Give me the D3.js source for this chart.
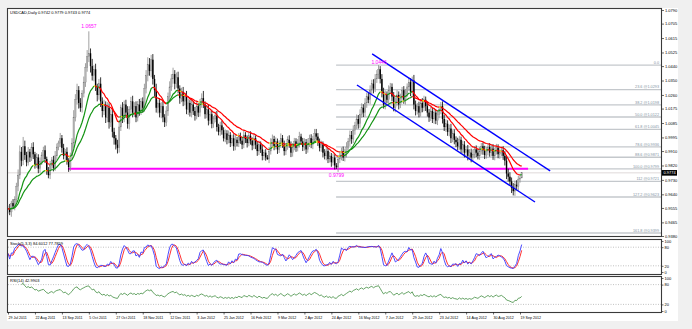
<!DOCTYPE html>
<html><head><meta charset="utf-8">
<script src="https://cdnjs.cloudflare.com/ajax/libs/d3/7.8.5/d3.min.js"></script>
<style>body{margin:0;background:#f0f0f0;}svg{display:block;font-family:"Liberation Sans",Arial,sans-serif;}</style>
</head><body><svg id="c" width="692" height="329"></svg>
<script>
// ---- DATA (prices in pips, 1/10000) ----
const firstOpen = 9545;
const closes = [
9550,9530,9585,9565,9610,9690,9760,9905,9850,9940,
9885,9840,9905,9870,9935,9890,9825,9870,9800,9845,
9885,9915,9860,9790,9760,9820,9855,9805,9880,9935,
9960,9990,9930,9880,9905,9850,9810,9880,9960,10120,
10230,10290,10210,10180,10270,10340,10430,10500,10520,10440,
10380,10420,10310,10260,10330,10220,10160,10200,10120,10180,
10090,10140,10030,9990,9950,9930,10060,10180,10120,10200,
10150,10080,10170,10220,10150,10190,10120,10200,10160,10220,
10180,10300,10380,10450,10410,10480,10360,10290,10180,10210,
10150,10190,10120,10090,10160,10250,10310,10360,10390,10330,
10370,10300,10240,10280,10220,10250,10170,10210,10150,10200,
10160,10130,10190,10150,10210,10240,10200,10140,10170,10100,
10140,10080,10110,10130,10060,10030,10070,10040,9990,10020,
9980,10010,9960,9990,9940,9980,9960,10000,9975,9950,
10010,9985,9960,10005,9975,9945,9990,9950,9910,9950,
9920,9880,9900,9870,9860,9910,9960,9985,9940,9970,
9920,9955,9990,9950,9910,9940,9980,9950,9900,9935,
9970,9930,9960,10000,9970,9935,9965,9920,9960,9990,
9950,9985,10020,10000,9970,9930,9950,9900,9880,9910,
9860,9880,9840,9870,9820,9810,9860,9880,9910,9870,
9900,9935,9970,10010,9985,10040,10070,10110,10080,10140,
10180,10150,10210,10250,10230,10290,10330,10300,10360,10390,
10420,10360,10280,10200,10260,10230,10290,10310,10250,10180,
10220,10260,10200,10240,10290,10230,10270,10310,10340,10280,
10350,10200,10160,10190,10150,10210,10180,10230,10190,10150,
10120,10160,10110,10150,10100,10140,10170,10190,10110,10060,
10080,10030,10050,9990,10020,9980,9965,9940,9980,9920,
9950,9900,9920,9880,9900,9870,9890,9920,9900,9880,
9910,9940,9915,9885,9910,9935,9900,9925,9880,9910,
9930,9890,9900,9915,9880,9850,9770,9750,9720,9680,
9660,9700,9690,9735,9742,9774];
const upWick = [
20,30,15,25,18,22,35,40,30,58, 35,20,30,18,25,30,15,28,20,25,
18,22,30,15,20,28,18,25,30,22, 15,33,20,25,18,28,15,20,30,45,
35,40,25,30,20,35,28,40,137,30, 45,25,35,20,30,40,25,30,20,35,
28,30,40,25,20,30,45,20,35,25, 30,40,20,28,35,25,30,22,35,20,
25,30,35,45,40,30,35,25,40,20, 30,25,35,20,30,25,35,30,40,25,
30,35,20,25,30,20,35,25,18,30, 22,25,30,18,25,30,45,20,25,30,
20,28,18,25,30,20,22,30,18,25, 20,28,18,22,25,30,18,22,25,20,
30,18,22,25,28,20,30,18,22,25, 20,28,18,22,15,25,30,28,20,25,
18,22,30,20,25,18,22,28,20,25, 22,20,25,30,18,22,25,20,28,22,
25,20,28,28,22,18,25,20,22,25, 20,25,18,22,20,15,25,30,22,28,
25,30,22,28,25,30,22,28,25,30, 28,22,30,25,28,30,25,28,30,25,
26,20,30,25,28,22,30,25,22,28, 25,30,22,28,20,25,28,22,30,25,
25,35,25,20,28,22,30,25,20,28, 22,25,20,28,22,25,20,26,30,25,
28,22,25,30,20,25,22,28,25,20, 25,22,20,28,22,25,30,20,25,22,
25,20,22,28,25,20,25,22,28,20, 25,22,28,20,25,30,35,30,28,25,
30,25,28,22,20,5];
const dnWick = [
25,20,30,18,25,20,30,25,35,28, 30,25,20,28,22,30,25,20,28,25,
22,30,25,28,20,25,30,22,18,25, 20,25,30,22,28,25,30,25,20,30,
25,30,35,25,30,25,30,25,35,40, 30,35,25,40,30,35,40,25,35,30,
40,30,35,40,30,35,30,25,35,30, 25,30,35,25,30,28,30,25,30,25,
30,25,30,35,30,40,35,40,30,35, 30,35,30,30,25,30,35,25,30,35,
25,30,35,25,30,25,30,35,25,30, 25,30,22,28,25,30,22,28,25,30,
22,28,25,20,28,22,25,28,20,25, 28,22,25,20,28,25,22,25,20,28,
22,25,28,20,25,30,22,28,30,25, 22,28,25,20,5,25,22,28,25,20,
28,22,25,20,28,25,22,20,28,25, 20,25,22,28,20,25,22,28,20,25,
22,28,20,25,28,22,25,30,22,28, 25,22,28,20,25,11,30,25,28,22,
25,30,22,28,30,25,28,22,30,25, 22,28,25,30,22,28,25,30,22,25,
30,28,35,25,30,22,28,25,30,22, 28,25,30,22,28,25,30,22,25,28,
25,30,28,22,30,25,28,22,30,25, 28,22,25,30,22,28,25,30,28,25,
30,25,28,30,25,28,30,25,22,28, 25,30,22,28,25,30,22,25,28,22,
25,22,28,25,22,28,25,22,25,28, 22,25,28,22,25,30,35,30,28,32,
27,30,25,28,22,1];
const priceTicks = [1.0790,1.0705,1.0615,1.0525,1.0440,1.0350,1.0260,1.0175,1.0085,0.9995,0.9910,0.9820,0.9730,0.9640,0.9555,0.9465,0.9380];
const dateLabels = ["29 Jul 2011","22 Aug 2011","13 Sep 2011","5 Oct 2011","27 Oct 2011","18 Nov 2011","12 Dec 2011","3 Jan 2012","25 Jan 2012","16 Feb 2012","9 Mar 2012","2 Apr 2012","24 Apr 2012","16 May 2012","7 Jun 2012","29 Jun 2012","23 Jul 2012","14 Aug 2012","30 Aug 2012","19 Sep 2012"];
const fibNames = ["0.0","23.6","38.2","50.0","61.8","78.6","88.6","100.0","112","127.2","161.8"];
const fibPrices = [1.0446,1.0293,1.0198,1.0122,1.0045,0.9936,0.9871,0.9799,0.9721,0.9623,0.9399];
const fibStartBar = 194.8;
const channelUpper = [[216.2,1.0516],[321.9,0.9786]];
const channelLower = [[207.2,1.0322],[312.9,0.9592]];
const supportLine = [[35.6,0.9799],[308.8,0.9799]];
const marks = [{bar:48.1,price:1.0657,text:"1.0657",dy:-3},{bar:220.3,price:1.0446,text:"1.0446",dy:-1},{bar:195,price:0.9799,text:"0.9799",dy:8}];
const lastPrice = 0.9774;
const header = "USDCAD,Daily  0.9742 0.9779 0.9743 0.9774";
const stochTitle = "Stoch(5,3,3) 84.6012 77.7859";
const rsiTitle = "RSI(14) 42.9903";
const oscTicks = [0,20,80,100];

// ---- derived ----
const N = closes.length;
const P = v => v/10000;
const opens = closes.map((c,i)=> i===0 ? firstOpen : closes[i-1]);
const highs = closes.map((c,i)=> Math.max(opens[i],c)+upWick[i]);
const lows = closes.map((c,i)=> Math.min(opens[i],c)-dnWick[i]);

const x = d3.scaleLinear().domain([0,304]).range([8,520]);
const y = d3.scaleLinear().domain([0.9380,1.0790]).range([236,10]);
const yS = d3.scaleLinear().domain([0,100]).range([272,241]);
const yR = d3.scaleLinear().domain([0,100]).range([311,278]);

const svg = d3.select("#c");
svg.append("rect").attr("x",7).attr("y",8).attr("width",671).attr("height",313).attr("fill","#fff");
const defs = svg.append("defs");
defs.append("clipPath").attr("id","mc").append("rect").attr("x",8).attr("y",9).attr("width",653).attr("height",227);
defs.append("clipPath").attr("id","sc").append("rect").attr("x",8).attr("y",240).attr("width",653).attr("height",34);
defs.append("clipPath").attr("id","rc").append("rect").attr("x",8).attr("y",277).attr("width",653).attr("height",35);

const main = svg.append("g").attr("clip-path","url(#mc)");
const line = d3.line().x(d=>x(d[0])).y(d=>y(d[1]));

// fib levels
fibPrices.forEach((p,i)=>{
  main.append("line").attr("x1",x(fibStartBar)).attr("x2",661).attr("y1",y(p)).attr("y2",y(p))
    .attr("stroke","#c4c8cc").attr("stroke-width",1.4);
  main.append("text").attr("x",659).attr("y",y(p)-1.2).attr("text-anchor","end")
    .attr("font-size",3.8).attr("fill","#8593a3")
    .text(i===0 ? fibNames[i] : fibNames[i]+" @"+p.toFixed(4));
});
// current price line
main.append("line").attr("x1",8).attr("x2",661).attr("y1",y(lastPrice)).attr("y2",y(lastPrice))
  .attr("stroke","#d8d0d0").attr("stroke-width",0.8);
// support
main.append("path").attr("d",line(supportLine)).attr("stroke","#ff00ff").attr("stroke-width",2).attr("fill","none");

// candles
const cg = main.append("g");
closes.forEach((c,i)=>{
  const bull = c>=opens[i];
  const col = bull ? "#8a8a8a" : "#000";
  cg.append("line").attr("x1",x(i)).attr("x2",x(i)).attr("y1",y(P(highs[i]))).attr("y2",y(P(lows[i])))
    .attr("stroke",col).attr("stroke-width",0.8);
  const top = y(P(Math.max(opens[i],c))), bot = y(P(Math.min(opens[i],c)));
  cg.append("rect").attr("x",x(i)-0.7).attr("width",1.4).attr("y",top).attr("height",Math.max(0.6,bot-top))
    .attr("fill",bull?"#b4b4b4":"#000").attr("stroke",bull?"#777":"none").attr("stroke-width",0.3);
});

// moving averages
function ema(arr,n){const k=2/(n+1);const o=[];arr.forEach((v,i)=>o.push(i===0?v:o[i-1]+k*(v-o[i-1])));return o;}
function drawColored(vals,thr){
  const colOf = d => d>thr ? "#149414" : (d<-thr ? "#ff0000" : "#f2e200");
  let run=[[0,vals[0]]], cur=null;
  const flush=()=>{ if(run.length>1) main.append("path").attr("d",d3.line().x(d=>x(d[0])).y(d=>y(P(d[1])))(run))
      .attr("fill","none").attr("stroke",cur).attr("stroke-width",1.2); };
  for(let i=1;i<vals.length;i++){
    const c = colOf(vals[i]-vals[i-1]);
    if(cur!==null && c!==cur){ flush(); run=[[i-1,vals[i-1]]]; }
    cur=c; run.push([i,vals[i]]);
  }
  flush();
}
drawColored(ema(closes,26),0.8);
drawColored(ema(closes,13),1.2);

// channel
[channelUpper,channelLower].forEach(ch=>main.append("path").attr("d",line(ch)).attr("stroke","#0000ff").attr("stroke-width",1.4).attr("fill","none"));

// annotations
marks.forEach(m=>main.append("text").attr("x",x(m.bar)).attr("y",y(m.price)+m.dy).attr("text-anchor","middle")
  .attr("font-size",5).attr("fill","#ff00ff").text(m.text));
svg.append("text").attr("x",10).attr("y",14).attr("font-size",4).attr("fill","#000").text(header);

// price axis
const pa = svg.append("g").attr("transform","translate(661.5,0)")
  .call(d3.axisRight(y).tickValues(priceTicks).tickSize(2.5).tickPadding(1).tickFormat(d3.format(".4f")));
pa.select(".domain").remove();
pa.selectAll("text").attr("font-size",4).attr("fill","#000").attr("font-family","Liberation Sans, Arial, sans-serif");
pa.selectAll("line").attr("stroke","#000").attr("stroke-width",0.6);
// last price box
svg.append("rect").attr("x",662).attr("y",y(lastPrice)-2.8).attr("width",15).attr("height",5.6).attr("fill","#000");
svg.append("text").attr("x",663.5).attr("y",y(lastPrice)+1.5).attr("font-size",4).attr("fill","#fff").text(lastPrice.toFixed(4));

// ---- stochastic ----
const raw = closes.map((c,i)=>{const s=Math.max(0,i-4);return {num:c-d3.min(lows.slice(s,i+1)),den:d3.max(highs.slice(s,i+1))-d3.min(lows.slice(s,i+1))};});
const kMain = raw.map((r,i)=>{const s=Math.max(0,i-2);const a=raw.slice(s,i+1);const dn=d3.sum(a,d=>d.den);return dn?100*d3.sum(a,d=>d.num)/dn:50;});
const kSig = kMain.map((v,i)=>d3.mean(kMain.slice(Math.max(0,i-2),i+1)));
const sg = svg.append("g").attr("clip-path","url(#sc)");
[20,80].forEach(l=>sg.append("line").attr("x1",8).attr("x2",661).attr("y1",yS(l)).attr("y2",yS(l)).attr("stroke","#999").attr("stroke-width",0.6).attr("stroke-dasharray","1,1.5"));
sg.append("path").attr("d",d3.line().x((d,i)=>x(i)).y(d=>yS(d))(kSig)).attr("fill","none").attr("stroke","#ff3030").attr("stroke-width",1);
sg.append("path").attr("d",d3.line().x((d,i)=>x(i)).y(d=>yS(d))(kMain)).attr("fill","none").attr("stroke","#3a3aff").attr("stroke-width",0.9);
svg.append("text").attr("x",10).attr("y",245).attr("font-size",4).text(stochTitle);

// ---- RSI ----
const rsi = [];
let ag=0, al=0;
closes.forEach((c,i)=>{
  if(i===0){rsi.push(50);return;}
  const ch=c-closes[i-1], g=Math.max(ch,0), l=Math.max(-ch,0);
  if(i<=14){ag+=g/14;al+=l/14;} else {ag=(ag*13+g)/14;al=(al*13+l)/14;}
  rsi.push(al===0?100:100-100/(1+ag/al));
});
const rg = svg.append("g").attr("clip-path","url(#rc)");
[20,80].forEach(l=>rg.append("line").attr("x1",8).attr("x2",661).attr("y1",yR(l)).attr("y2",yR(l)).attr("stroke","#999").attr("stroke-width",0.6).attr("stroke-dasharray","1,1.5"));
rg.append("path").attr("d",d3.line().defined((d,i)=>i>=8).x((d,i)=>x(i)).y(d=>yR(d))(rsi)).attr("fill","none").attr("stroke","#3d8b3d").attr("stroke-width",0.8);
svg.append("text").attr("x",10).attr("y",282).attr("font-size",4).text(rsiTitle);

// osc axes
[yS,yR].forEach(sc=>{
  const a = svg.append("g").attr("transform","translate(661.5,0)").call(d3.axisRight(sc).tickValues(oscTicks).tickSize(2).tickPadding(1));
  a.select(".domain").remove();
  a.selectAll("text").attr("font-size",4).attr("font-family","Liberation Sans, Arial, sans-serif");
  a.selectAll("line").attr("stroke-width",0.6);
});

// panel borders
[[8.5,228],[239.5,35],[276.5,36]].forEach(([yy,h])=>svg.append("rect").attr("x",7.5).attr("y",yy).attr("width",654).attr("height",h)
  .attr("fill","none").attr("stroke","#3a3a3a").attr("stroke-width",1.1));

// date axis
const da = svg.append("g").attr("transform","translate(0,312.5)")
  .call(d3.axisBottom(x).tickValues(d3.range(0,dateLabels.length).map(k=>16*k)).tickSize(2).tickPadding(1.5).tickFormat((d,i)=>dateLabels[i]));
da.select(".domain").remove();
da.selectAll("text").attr("font-size",3.6).attr("text-anchor","start").attr("dx",0).attr("font-family","Liberation Sans, Arial, sans-serif");
da.selectAll("line").attr("stroke-width",0.6);
</script></body></html>
